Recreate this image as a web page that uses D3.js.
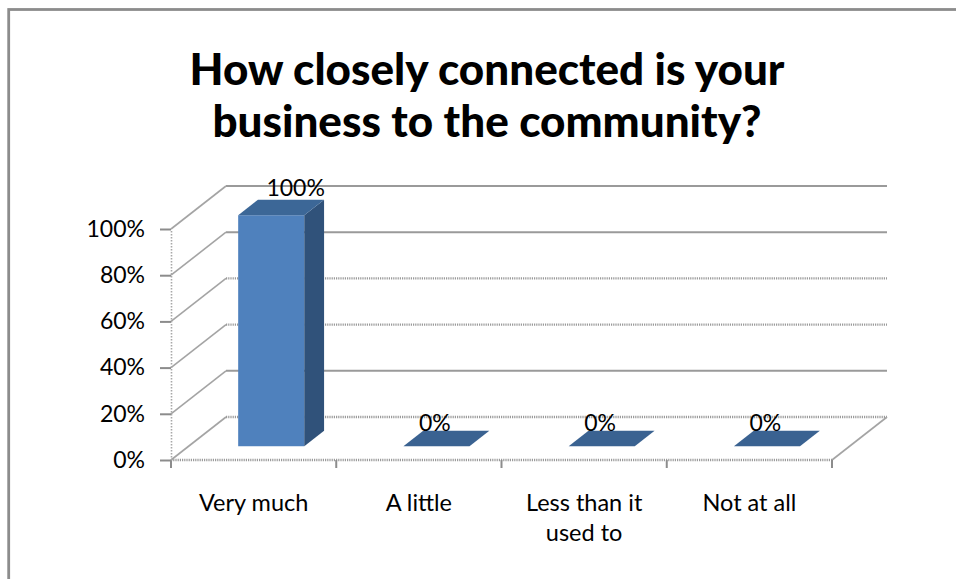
<!DOCTYPE html>
<html>
<head>
<meta charset="utf-8">
<script src="https://cdn.jsdelivr.net/npm/d3@7"></script>
<style>
  body { margin: 0; background: #ffffff; }
  svg { display: block; }
  text { font-family: Lato, "Open Sans", sans-serif; fill: #000; }
</style>
</head>
<body>
<svg id="chart" width="956" height="579"></svg>
<script>
// Survey answers and their shares
const titleLines = ["How closely connected is your", "business to the community?"];
const categories = ["Very much", "A little", "Less than it used to", "Not at all"];
const categoryLines = [["Very much"], ["A little"], ["Less than it", "used to"], ["Not at all"]];
const values = [100, 0, 0, 0];
const valueLabels = ["100%", "0%", "0%", "0%"];
const yTicks = [0, 20, 40, 60, 80, 100];
const yTickLabels = ["0%", "20%", "40%", "60%", "80%", "100%"];

const svg = d3.select("#chart");

// Plot box (front plane) and the 3-D depth offset of the back wall
const left = 171, right = 832, floorY = 460, topY = 229;
const DX = 55, DY = -43;
const z0 = 0.32, z1 = 0.68;           // bar depth range within the floor

const x = d3.scaleBand().domain(categories).range([left, right])
  .paddingInner(0.6).paddingOuter(0.3);
const xSlot = d3.scaleBand().domain(categories).range([left, right]).padding(0);
const y = d3.scaleLinear().domain([0, 100]).range([floorY, topY]);

// Outer chart frame
svg.append("rect")
  .attr("x", 8.7).attr("y", 9.5).attr("width", 1000).attr("height", 1000)
  .attr("fill", "none").attr("stroke", "#8c8c8c").attr("stroke-width", 2.8);

// Title
svg.append("g").selectAll("text").data(titleLines).join("text")
  .attr("x", 487).attr("y", (d, i) => 85 + i * 52)
  .attr("text-anchor", "middle")
  .style("font-size", "44px").style("font-weight", "900")
  .text(d => d);

const grid = svg.append("g").attr("fill", "none");
const hatched = new Set([0, 40, 60]);
const gridStroke = t => hatched.has(t) ? "1.2 1" : null;

// Back wall gridlines
grid.selectAll("line.back").data(yTicks).join("line")
  .attr("class", "back")
  .attr("x1", left + DX).attr("x2", right + DX)
  .attr("y1", d => y(d) + DY).attr("y2", d => y(d) + DY)
  .attr("stroke", "#9a9a9a").attr("stroke-width", d => hatched.has(d) ? 2.4 : 2)
  .attr("stroke-dasharray", gridStroke);

// Side wall gridlines running from the front axis back to the wall
grid.selectAll("line.side").data(yTicks).join("line")
  .attr("class", "side")
  .attr("x1", left).attr("x2", left + DX)
  .attr("y1", d => y(d)).attr("y2", d => y(d) + DY)
  .attr("stroke", "#a4a4a4").attr("stroke-width", 1.6);

// Floor: front edge and right-hand depth edge
grid.append("line")
  .attr("x1", left).attr("x2", right).attr("y1", floorY).attr("y2", floorY)
  .attr("stroke", "#9a9a9a").attr("stroke-width", 2.4).attr("stroke-dasharray", "1.2 1");
grid.append("line")
  .attr("x1", right).attr("x2", right + DX).attr("y1", floorY).attr("y2", floorY + DY)
  .attr("stroke", "#a4a4a4").attr("stroke-width", 1.6);

// Category tick marks at slot boundaries
const bounds = categories.map(c => xSlot(c)).concat([right]);
grid.selectAll("line.ctick").data(bounds).join("line")
  .attr("class", "ctick")
  .attr("x1", d => d).attr("x2", d => d)
  .attr("y1", floorY).attr("y2", floorY + 8)
  .attr("stroke", "#8c8c8c").attr("stroke-width", 2);

// Value axis on the front plane
const yAxis = d3.axisLeft(y)
  .tickValues(yTicks)
  .tickFormat((d, i) => yTickLabels[i])
  .tickSize(11).tickSizeOuter(0).tickPadding(15);
const ya = svg.append("g").attr("transform", `translate(${left},0)`).call(yAxis);
ya.select(".domain").attr("stroke", "#a8a8a8").attr("stroke-width", 1.6)
  .attr("stroke-dasharray", "1.5 1.5");
ya.selectAll(".tick line").attr("stroke", "#8c8c8c").attr("stroke-width", 2);
ya.selectAll(".tick text").style("font-size", "23px").style("font-family", "Lato, sans-serif")
  .attr("fill", "#000");

// Category labels
const cl = svg.append("g").selectAll("g").data(categories).join("g")
  .attr("transform", c => `translate(${xSlot(c) + xSlot.bandwidth() / 2},0)`);
cl.selectAll("text").data((c, i) => categoryLines[i]).join("text")
  .attr("x", 0).attr("y", (d, j) => 511 + j * 30)
  .attr("text-anchor", "middle")
  .style("font-size", "23.5px")
  .text(d => d);

// 3-D columns
const ox = z0 * DX, oy = z0 * DY;
const ddx = (z1 - z0) * DX, ddy = (z1 - z0) * DY;
const bw = x.bandwidth();
const bars = svg.append("g").selectAll("g").data(categories).join("g");
bars.each(function (c, i) {
  const g = d3.select(this);
  const x0 = x(c) + ox, x1 = x0 + bw;
  const yb = y(0) + oy, yt = y(values[i]) + oy;
  if (yb - yt > 0) {
    g.append("rect").attr("x", x0).attr("y", yt).attr("width", bw).attr("height", yb - yt)
      .attr("fill", "#4f81bd");
    g.append("path")
      .attr("d", `M${x1},${yt}L${x1 + ddx},${yt + ddy}L${x1 + ddx},${yb + ddy}L${x1},${yb}Z`)
      .attr("fill", "#30527a");
  }
  g.append("path")
    .attr("d", `M${x0},${yt}L${x1},${yt}L${x1 + ddx},${yt + ddy}L${x0 + ddx},${yt + ddy}Z`)
    .attr("fill", values[i] > 0 ? "#3c6797" : "#3a6291");
});

// Value labels above each column
svg.append("g").selectAll("text").data(categories).join("text")
  .attr("x", (c, i) => xSlot(c) + xSlot.bandwidth() / 2 + (values[i] > 0 ? 42 : 16))
  .attr("y", (c, i) => y(values[i]) + z1 * DY - (values[i] > 0 ? 4 : 0))
  .attr("text-anchor", "middle")
  .style("font-size", "23px")
  .text((c, i) => valueLabels[i]);
</script>
</body>
</html>
